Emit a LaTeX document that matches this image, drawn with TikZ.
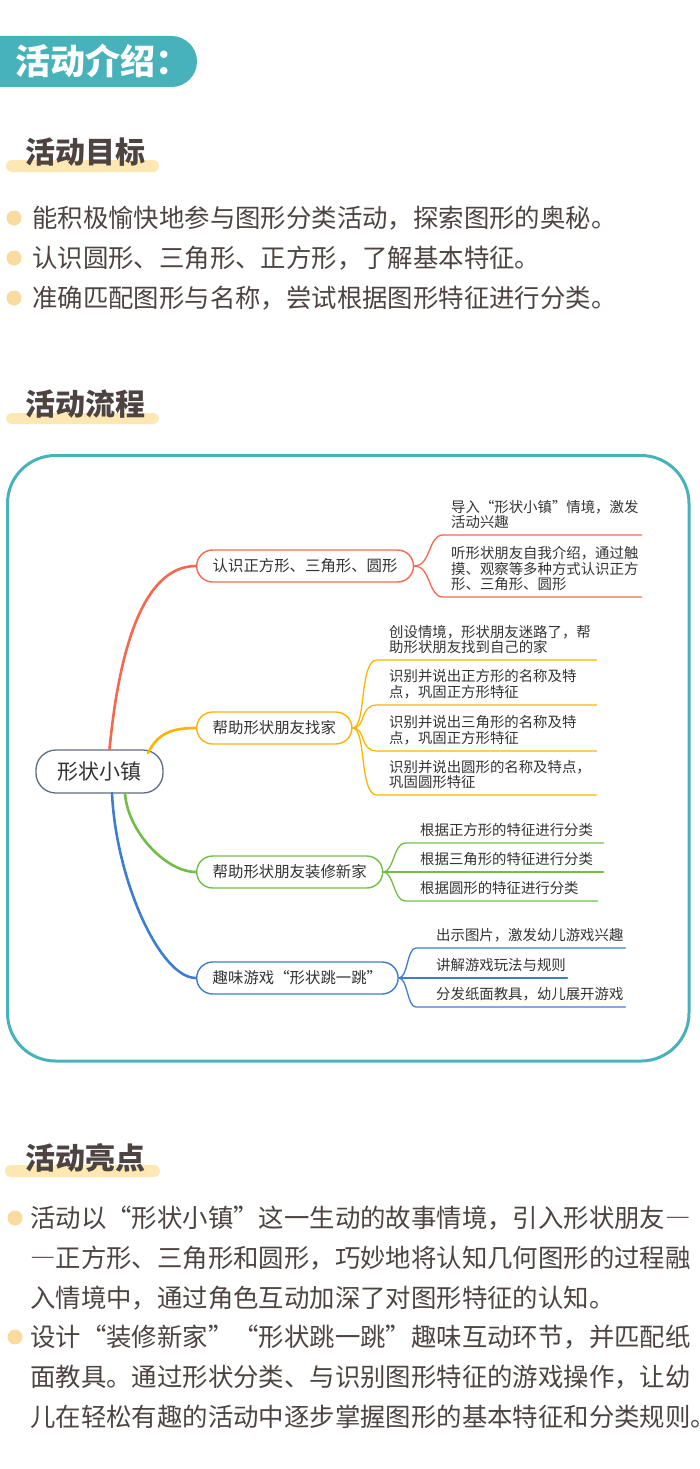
\documentclass[tikz,border=0pt]{standalone}
\usepackage{fontspec}
\setmainfont{Noto Sans CJK SC}
\usetikzlibrary{positioning}

\definecolor{verdeacqua}{RGB}{72,178,186}
\definecolor{testo}{RGB}{77,68,66}
\definecolor{scuro}{RGB}{51,51,51}
\definecolor{barra}{RGB}{253,232,180}
\definecolor{punto}{RGB}{249,220,157}
\definecolor{rosso}{RGB}{245,103,78}
\definecolor{arancio}{RGB}{252,180,0}
\definecolor{verde}{RGB}{112,190,70}
\definecolor{blu}{RGB}{61,125,208}
\definecolor{grigio}{RGB}{94,110,130}

\begin{document}
\begin{tikzpicture}[x=1pt, y=-1pt, line cap=round,
    titolo/.style = {text=white, font=\fontsize{35}{40}\selectfont\bfseries, anchor=west, inner sep=0},
    sezione/.style = {text=testo, font=\fontsize{30}{34}\selectfont\bfseries, anchor=west, inner sep=0},
    voce/.style = {text=testo, font=\fontsize{25.4}{40}\selectfont, anchor=west, inner sep=0, align=left},
    radice/.style = {draw=grigio, line width=1.3pt, rounded corners=20pt, fill=white, text=scuro, font=\fontsize{21}{24}\selectfont, minimum width=127pt, minimum height=43pt},
    ramo/.style = {rounded corners=16pt, line width=1.4pt, fill=white, text=scuro, font=\fontsize{15.4}{18}\selectfont, minimum height=32pt, inner xsep=16pt, anchor=west},
    foglia/.style = {text=scuro, font=\fontsize{14.4}{15.5}\selectfont, align=left, inner xsep=0, inner ysep=6pt, anchor=south west},
    filo/.style = {line width=1.3pt},
    tronco/.style = {line width=2.6pt}]

    \useasboundingbox (0,0) rectangle (700,1469);

    % Intestazione e titoli di sezione
    \fill[verdeacqua, rounded corners=25.5pt] (-40,36) rectangle (197,87);
    \node[titolo] (titolo) at (15,61) {活动介绍：};

    \fill[barra, rounded corners=6pt] (6,160) rectangle (159,172);
    \node[sezione] (obiettivi) at (25,152.5) {活动目标};
    \fill[barra, rounded corners=6pt] (6,413) rectangle (159,424);
    \node[sezione] (flusso) at (25,404.5) {活动流程};
    \fill[barra, rounded corners=6pt] (5,1165) rectangle (160,1177);
    \node[sezione] (punti) at (25,1158) {活动亮点};

    % Obiettivi
    \fill[punto] (14,218) circle (7.5);
    \fill[punto] (14,258) circle (7.5);
    \fill[punto] (14,298) circle (7.5);
    \node[voce] (o1) at (32,218) {能积极愉快地参与图形分类活动，探索图形的奥秘。};
    \node[voce] (o2) at (32,258) {认识圆形、三角形、正方形，了解基本特征。};
    \node[voce] (o3) at (32,298) {准确匹配图形与名称，尝试根据图形特征进行分类。};

    % Riquadro della mappa
    \draw[verdeacqua, line width=3pt, rounded corners=48pt] (7.5,455.5) rectangle (689,1061);

    % Disegna i nodi della mappa
    \node[radice] (0) at (99.5,771.5) {形状小镇};
    \node[ramo, draw=rosso] (1) at (196,566) {认识正方形、三角形、圆形};
    \node[ramo, draw=arancio] (2) at (196,728) {帮助形状朋友找家};
    \node[ramo, draw=verde] (3) at (196,872) {帮助形状朋友装修新家};
    \node[ramo, draw=blu] (4) at (196,978) {趣味游戏“形状跳一跳”};

    \node[foglia, text width=190pt] (11) at (451,535) {导入“形状小镇”情境，激发\\活动兴趣};
    \node[foglia, text width=190pt] (12) at (451,597) {听形状朋友自我介绍，通过触\\摸、观察等多种方式认识正方\\形、三角形、圆形};

    \node[foglia, text width=207pt] (21) at (389,660) {创设情境，形状朋友迷路了，帮\\助形状朋友找到自己的家};
    \node[foglia, text width=207pt] (22) at (389,705) {识别并说出正方形的名称及特\\点，巩固正方形特征};
    \node[foglia, text width=207pt] (23) at (389,751) {识别并说出三角形的名称及特\\点，巩固正方形特征};
    \node[foglia, text width=207pt] (24) at (389,795) {识别并说出圆形的名称及特点，\\巩固圆形特征};

    \node[foglia, text width=183pt] (31) at (420,843) {根据正方形的特征进行分类};
    \node[foglia, text width=183pt] (32) at (420,872) {根据三角形的特征进行分类};
    \node[foglia, text width=177pt] (33) at (420,901) {根据圆形的特征进行分类};

    \node[foglia, text width=189pt] (41) at (436,948) {出示图片，激发幼儿游戏兴趣};
    \node[foglia, text width=131pt] (42) at (436,978) {讲解游戏玩法与规则};
    \node[foglia, text width=189pt] (43) at (436,1007) {分发纸面教具，幼儿展开游戏};

    % Rami principali
    \draw[tronco, rosso] ([xshift=10pt]0.north) .. controls (118,660) and (140,566) .. (1.west);
    \draw[tronco, arancio] (148,753) .. controls (158,733) and (172,728) .. (2.west);
    \draw[tronco, verde] (125,793) .. controls (127,830) and (165,872) .. (3.west);
    \draw[tronco, blu] (112,793) .. controls (116,880) and (160,978) .. (4.west);

    % Rami secondari
    \draw[filo, rosso] (1.east) .. controls +(17,0) and +(-15,0) .. ([xshift=-8pt]11.south west) -- (11.south east);
    \draw[filo, rosso] (1.east) .. controls +(17,0) and +(-15,0) .. ([xshift=-8pt]12.south west) -- (12.south east);

    \draw[filo, arancio] (2.east) .. controls +(14,0) and +(-18,0) .. ([xshift=-12pt]21.south west) -- (21.south east);
    \draw[filo, arancio] (2.east) .. controls +(14,0) and +(-18,0) .. ([xshift=-12pt]22.south west) -- (22.south east);
    \draw[filo, arancio] (2.east) .. controls +(14,0) and +(-18,0) .. ([xshift=-12pt]23.south west) -- (23.south east);
    \draw[filo, arancio] (2.east) .. controls +(14,0) and +(-18,0) .. ([xshift=-12pt]24.south west) -- (24.south east);

    \draw[filo, verde] (3.east) .. controls +(10,0) and +(-11,0) .. ([xshift=-15pt]31.south west) -- (31.south east);
    \draw[filo, verde] (3.east) -- (32.south east);
    \draw[filo, verde] (3.east) .. controls +(10,0) and +(-11,0) .. ([xshift=-15pt]33.south west) -- (33.south east);

    \draw[filo, blu] (4.east) .. controls +(9,0) and +(-9,0) .. ([xshift=-20pt]41.south west) -- (41.south east);
    \draw[filo, blu] (4.east) -- (42.south east);
    \draw[filo, blu] (4.east) .. controls +(9,0) and +(-9,0) .. ([xshift=-20pt]43.south west) -- (43.south east);

    % Punti salienti
    \fill[punto] (15,1218) circle (7.5);
    \fill[punto] (15,1337) circle (7.5);
    \node[voce] (p1) at (30,1258) {活动以“形状小镇”这一生动的故事情境，引入形状朋友{\addfontfeature{RawFeature=+fwid}—}\\{\addfontfeature{RawFeature=+fwid}—}正方形、三角形和圆形，巧妙地将认知几何图形的过程融\\入情境中，通过角色互动加深了对图形特征的认知。};
    \node[voce] (p2) at (30,1377) {设计“装修新家”“形状跳一跳”趣味互动环节，并匹配纸\\面教具。通过形状分类、与识别图形特征的游戏操作，让幼\\儿在轻松有趣的活动中逐步掌握图形的基本特征和分类规则。};

\end{tikzpicture}
\end{document}
